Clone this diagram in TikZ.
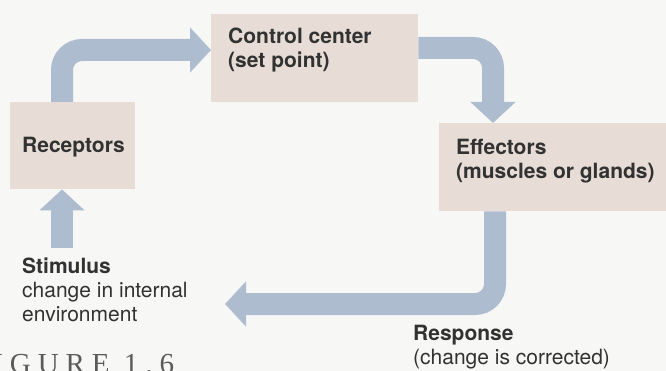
\documentclass[tikz,border=0pt]{standalone}
\usepackage{fontspec}
\setmainfont{TeX Gyre Heros}
\newfontfamily\capfont[LetterSpace=24]{Liberation Serif}
\usetikzlibrary{arrows.meta,calc}
\definecolor{boxfill}{RGB}{231,221,214}
\definecolor{flowblue}{RGB}{174,188,208}
\definecolor{ink}{RGB}{50,50,50}
\definecolor{bg}{RGB}{247,247,245}
\begin{document}
\begin{tikzpicture}[x=1pt,y=-1pt,
  box/.style={fill=boxfill, draw=none, inner sep=0pt, anchor=north west},
  lbl/.style={text=ink, inner sep=0pt, align=left, font=\fontsize{21}{24}\selectfont},
  flow/.style={draw=flowblue, line width=22pt, line cap=butt, rounded corners=20pt,
    -{Triangle[length=21pt,width=44pt]}},
]
\fill[bg] (0,0) rectangle (666,371);
\useasboundingbox (0,0) rectangle (666,371);

% boxes
\node[box, minimum width=125pt, minimum height=87pt] (rec) at (10,102) {};
\node[box, minimum width=207pt, minimum height=88pt] (ctl) at (211,14) {};
\node[box, minimum width=227pt, minimum height=88pt] (eff) at (439,123) {};

% labels
\node[lbl, anchor=base west] (rect) at (22,153) {\bfseries Receptors};
\node[lbl, anchor=north west] (ctlt) at (228,27.5) {\bfseries Control center\\\bfseries (set point)};
\node[lbl, anchor=north west] (efft) at (456,138.7) {\bfseries Effectors\\\bfseries (muscles or glands)};
\node[lbl, anchor=north west] (stim) at (22,258) {\bfseries Stimulus\\change in internal\\environment};
\node[lbl, anchor=north west] (resp) at (413,325) {\bfseries Response\\(change is corrected)};

\begin{scope}
\clip (0,0) rectangle (666,371);
\node[inner sep=0pt, anchor=base west, text=ink!80, font=\capfont\fontsize{29}{29}\selectfont] (fig) at (-30,373) {FIGURE 1.6};
\end{scope}

% connectors
\coordinate (a1s) at ($(rec.north west)+(52,0)$);
\coordinate (a1e) at ($(ctl.north west)+(0,36)$);
\draw[flow] (a1s) |- (a1e);

\coordinate (a2s) at ($(ctl.north east)+(0,34)$);
\coordinate (a2e) at ($(eff.north west)+(54,0)$);
\draw[flow] (a2s) -| (a2e);

\coordinate (a3s) at ($(eff.south west)+(56,0)$);
\coordinate (a3e) at (225,304);
\draw[flow] (a3s) |- (a3e);

\coordinate (a4s) at ($(stim.north west)+(40,-10)$);
\coordinate (a4e) at ($(rec.south west)+(52,0)$);
\draw[flow] (a4s) -- (a4e);
\end{tikzpicture}
\end{document}
